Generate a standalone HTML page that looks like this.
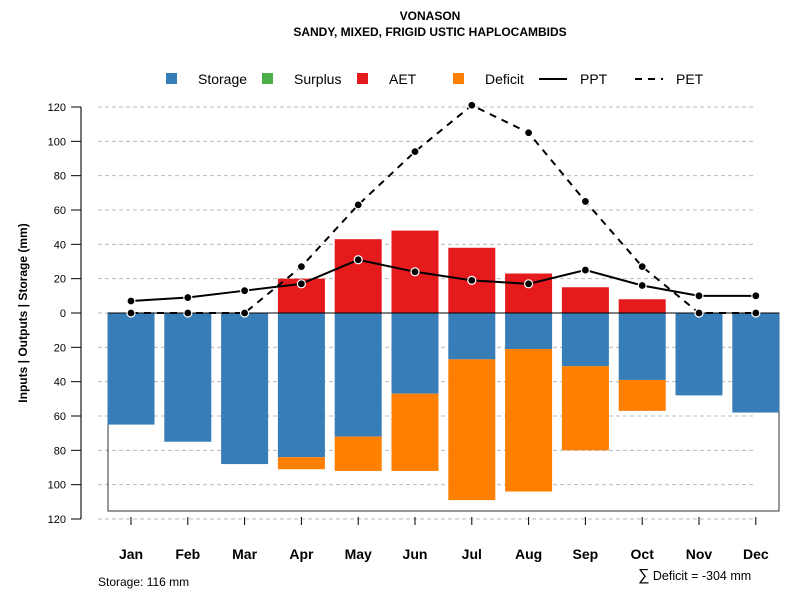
<!DOCTYPE html>
<html><head><meta charset="utf-8"><style>
body{margin:0;background:#fff}
svg{font-family:"Liberation Sans",Arial,sans-serif;display:block}
</style></head><body>
<svg id="c" width="800" height="600" xmlns="http://www.w3.org/2000/svg">
<text x="430" y="20" text-anchor="middle" font-size="12" font-weight="bold">VONASON</text>
<text x="430" y="36" text-anchor="middle" font-size="12" font-weight="bold">SANDY, MIXED, FRIGID USTIC HAPLOCAMBIDS</text>
<g font-size="14">
<rect x="166" y="73" width="11" height="11" fill="#377eb8"/>
<text x="198" y="84">Storage</text>
<rect x="262" y="73" width="11" height="11" fill="#4daf4a"/>
<text x="294" y="84">Surplus</text>
<rect x="357" y="73" width="11" height="11" fill="#e41a1c"/>
<text x="389" y="84">AET</text>
<rect x="453" y="73" width="11" height="11" fill="#ff7f00"/>
<text x="485" y="84">Deficit</text>
<line x1="539" y1="79" x2="567" y2="79" stroke="#000" stroke-width="2"/>
<text x="580" y="84">PPT</text>
<line x1="635" y1="79" x2="663" y2="79" stroke="#000" stroke-width="2" stroke-dasharray="7,6"/>
<text x="676" y="84">PET</text>
</g>
<text transform="translate(27,313) rotate(-90)" text-anchor="middle" font-size="12" font-weight="bold">Inputs | Outputs | Storage    (mm)</text>
<text x="98" y="586" font-size="12">Storage: 116 mm</text>
<text x="638" y="580" font-size="12.5"><tspan font-size="16">∑</tspan> Deficit = -304 mm</text>
<g id="g"></g>
</svg>
<script>
const months=["Jan","Feb","Mar","Apr","May","Jun","Jul","Aug","Sep","Oct","Nov","Dec"];
const storage=[65,75,88,84,72,47,27,21,31,39,48,58];
const deficit=[0,0,0,7,20,45,82,83,49,18,0,0];
const aet=[0,0,0,20,43,48,38,23,15,8,0,0];
const ppt=[7,9,13,17,31,24,19,17,25,16,10,10];
const pet=[0,0,0,27,63,94,121,105,65,27,0,0];
const yTicks=[120,100,80,60,40,20,0,20,40,60,80,100,120];
const yTickVals=[120,100,80,60,40,20,0,-20,-40,-60,-80,-100,-120];
const NS="http://www.w3.org/2000/svg",g=document.getElementById('g');
const X=i=>131+i*56.8, Y=v=>313-v*(206/120), BW=47;
function mk(t,a){const e=document.createElementNS(NS,t);for(const k in a)e.setAttribute(k,a[k]);g.appendChild(e);return e;}
mk('line',{x1:81,y1:Y(120),x2:81,y2:Y(-120),stroke:'#777','stroke-width':2,});
yTickVals.forEach((v,i)=>{
 const l=mk('line',{x1:98,y1:Y(v),x2:756,y2:Y(v),stroke:'#bbb','stroke-dasharray':'4,3'});
 
 
 const t=mk('line',{x1:71,y1:Y(v),x2:81,y2:Y(v),stroke:'#000'});
 
 
 const tx=mk('text',{x:66,y:Y(v)+4,'text-anchor':'end','font-size':11});
 tx.textContent=yTicks[i];
 
 
});
const bx=mk('rect',{x:108,y:313,width:671,height:198,fill:'none',stroke:'#333'});


months.forEach((m,i)=>{
 const x=X(i)-BW/2;
 if(storage[i]>0){const r=mk('rect',{x,y:313,width:BW,height:Y(-storage[i])-313,fill:'#377eb8'});
  
  }
 if(deficit[i]>0){const r=mk('rect',{x,y:Y(-storage[i]),width:BW,height:Y(-storage[i]-deficit[i])-Y(-storage[i]),fill:'#ff7f00'});
  
  }
 if(aet[i]>0){const r=mk('rect',{x,y:Y(aet[i]),width:BW,height:313-Y(aet[i]),fill:'#e41a1c'});
  
  }
 const t=mk('line',{x1:X(i),y1:517,x2:X(i),y2:525,stroke:'#000'});
 
 
 const tx=mk('text',{x:X(i),y:559,'text-anchor':'middle','font-size':14,'font-weight':'bold'});
 tx.textContent=m;
 
 
});
const zl=mk('line',{x1:108,y1:313,x2:779,y2:313,stroke:'#000'});


function series(arr,name,dash){
 const p=mk('polyline',{points:arr.map((v,i)=>X(i)+','+Y(v)).join(' '),fill:'none',stroke:'#000','stroke-width':2,'stroke-dasharray':dash||'none'});
 
 
 arr.forEach((v,i)=>{const c=mk('circle',{cx:X(i),cy:Y(v),r:4,fill:'#000',stroke:'#fff','stroke-width':1.2});
  
  });
}
series(ppt,'ppt');
series(pet,'pet','7,6');
</script>
</body></html>
